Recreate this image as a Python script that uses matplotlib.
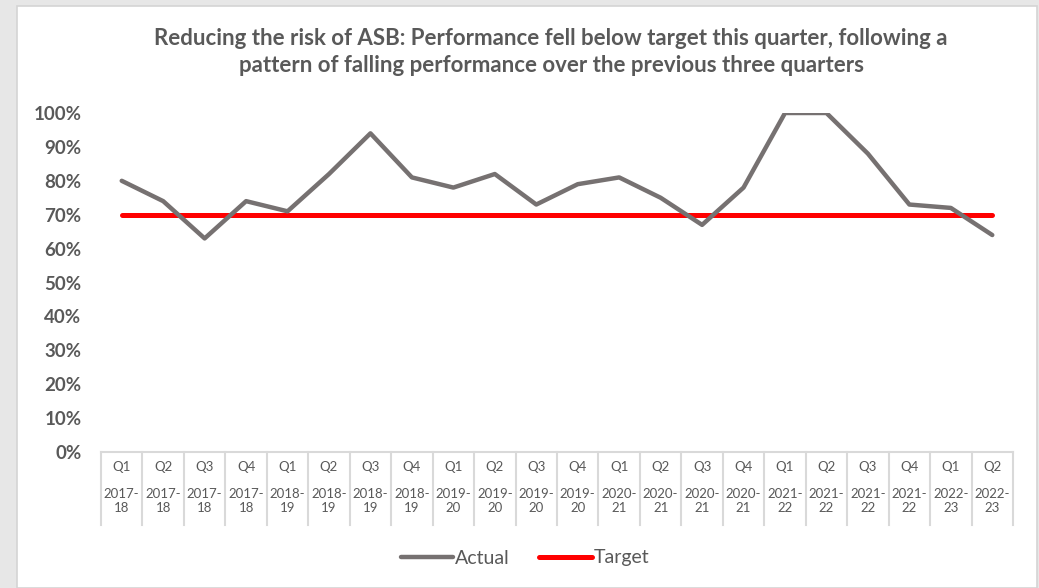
import matplotlib.pyplot as plt
import matplotlib.transforms as mtransforms
from matplotlib.patches import Rectangle
from matplotlib.ticker import FuncFormatter

plt.rcParams['font.family'] = ['Lato', 'DejaVu Sans']

quarters = ['Q1', 'Q2', 'Q3', 'Q4'] * 5 + ['Q1', 'Q2']
years = (['2017-18'] * 4 + ['2018-19'] * 4 + ['2019-20'] * 4 +
         ['2020-21'] * 4 + ['2021-22'] * 4 + ['2022-23'] * 2)
actual = [0.80, 0.74, 0.63, 0.74, 0.71, 0.82, 0.94, 0.81, 0.78, 0.82, 0.73,
          0.79, 0.81, 0.75, 0.67, 0.78, 1.00, 1.00, 0.88, 0.73, 0.72, 0.64]
target = [0.70] * len(actual)

txt = '#595959'
W, H = 1039, 588
fig = plt.figure(figsize=(W / 100, H / 100), dpi=100)
fig.patch.set_facecolor('#e7e7e7')
# white chart area with thin border
fig.patches.append(Rectangle((17 / W, 0), (1037 - 17) / W, (H - 6) / H,
                             transform=fig.transFigure, facecolor='white',
                             edgecolor='#d4d4d4', lw=1.2, zorder=-5))

ax = fig.add_axes([101 / W, 1 - 452 / H, (1013 - 101) / W, (452 - 113) / H])
ax.set_facecolor('none')
x = list(range(len(actual)))
ax.plot(x, actual, color='#767171', lw=3.2, label='Actual', solid_capstyle='round', zorder=3)
ax.plot(x, target, color='#ff0000', lw=3.6, label='Target', solid_capstyle='round', zorder=2)

ax.set_xlim(-0.5, len(actual) - 0.5)
ax.set_ylim(0, 1.0)
ax.set_yticks([i / 10 for i in range(11)])
ax.yaxis.set_major_formatter(FuncFormatter(lambda v, p: f'{v:.0%}'))
ax.tick_params(axis='y', length=0, pad=14, labelsize=13.5, labelcolor=txt)
for lb in ax.get_yticklabels():
    lb.set_fontweight('bold')
ax.set_xticks([])
for s in ['top', 'right', 'left']:
    ax.spines[s].set_visible(False)
ax.spines['bottom'].set_color('#d9d9d9')
ax.spines['bottom'].set_linewidth(1.5)

# multi-level category axis
trans = mtransforms.blended_transform_factory(ax.transData, ax.transAxes)
bot = -(525 - 452) / (452 - 113)
for k in range(len(actual) + 1):
    ax.plot([k - 0.5, k - 0.5], [0, bot], color='#d9d9d9', lw=1.5,
            transform=trans, clip_on=False)
for k, (q, y) in enumerate(zip(quarters, years)):
    ax.text(k, -(467 - 452) / 339, q, transform=trans, ha='center', va='center',
            fontsize=9.5, color=txt)
    a, b = y.split('-')
    ax.text(k, -(501 - 452) / 339, a + '-\n' + b, transform=trans, ha='center',
            va='center', fontsize=9.5, color=txt, linespacing=1.15)

fig.text(551 / W, 1 - 52 / H,
         'Reducing the risk of ASB: Performance fell below target this quarter, following a\n'
         'pattern of falling performance over the previous three quarters',
         ha='center', va='center', fontsize=16, fontweight='bold', color=txt,
         linespacing=1.3)

leg = ax.legend(loc='center', bbox_to_anchor=(525 / W, 1 - 558 / H),
                bbox_transform=fig.transFigure, ncol=2, frameon=False,
                fontsize=14, handlelength=2.7, handletextpad=0.1,
                columnspacing=1.5, labelcolor=txt)

fig.savefig('out.png', dpi=100, facecolor=fig.get_facecolor())
